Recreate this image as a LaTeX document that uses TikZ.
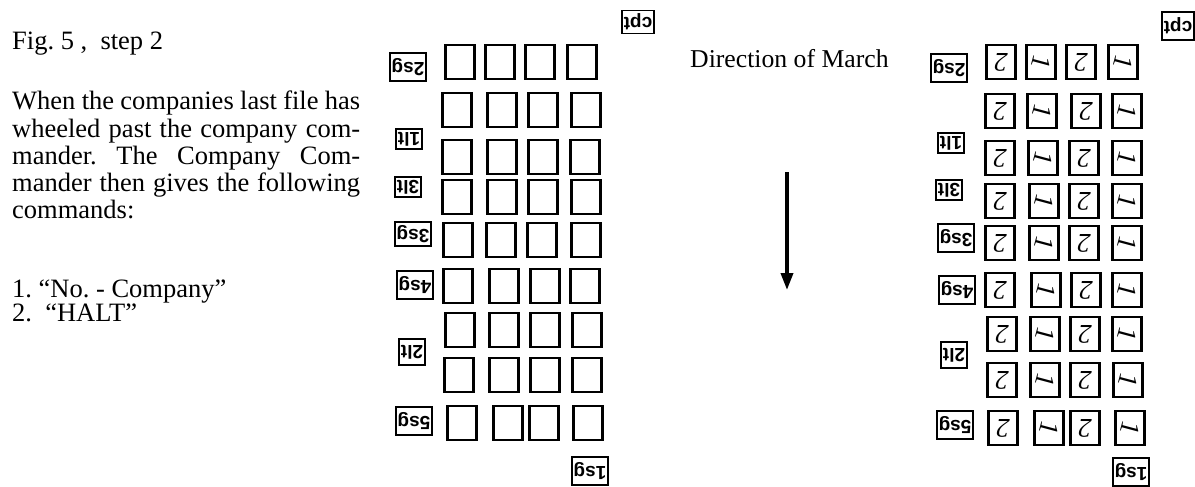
\documentclass[tikz,border=0pt]{standalone}
\usepackage{fontspec}
\usepackage{graphicx}
\setmainfont{Liberation Serif}
\newfontfamily\labfont{Liberation Sans}
\usetikzlibrary{arrows.meta}
\frenchspacing
\tikzset{
  txt/.style={anchor=base west, inner sep=0pt, font=\fontsize{26.5}{27}\selectfont},
  sq/.style={draw, line width=2.4pt, minimum width=29pt, minimum height=34pt, inner sep=0pt,
    font=\itshape\fontsize{27}{27}\selectfont},
  lbl/.style={draw, line width=1.9pt, rotate=180, inner xsep=2pt, inner ysep=1pt,
    font=\labfont\bfseries\fontsize{19}{19}\selectfont},
  sglbl/.style={lbl, minimum height=28pt},
  ltlbl/.style={lbl, minimum height=20pt},
  marcharrow/.style={line width=3.6pt, -{Triangle[width=12pt,length=17pt]}}
}
\newcommand{\mktwo}{\rotatebox[origin=c]{180}{2}}
\newcommand{\mkone}{\rotatebox[origin=c]{255}{\upshape 1}}
\begin{document}
\begin{tikzpicture}[x=1pt,y=-1pt]
\useasboundingbox (0,0) rectangle (1195,487);
% left text
\node[txt] (fig) at (12,50) {Fig. 5 ,\ \ step 2};
\node[txt] (p1) at (12,110) {\makebox[348pt][s]{When the companies last file has}};
\node[txt] (p2) at (12,137) {\makebox[348pt][s]{wheeled past the company com-}};
\node[txt] (p3) at (12,164) {\makebox[348pt][s]{mander. The Company Com-}};
\node[txt] (p4) at (12,191) {\makebox[348pt][s]{mander then gives the following}};
\node[txt] (p5) at (12,218) {commands:};
\node[txt] (c1) at (12,297) {1. “No. - Company”};
\node[txt] (c2) at (12,321) {2.\ \ “HALT”};
% direction of march
\node[txt, font=\fontsize{25.7}{27}\selectfont] (dom) at (690,67) {Direction of March};
\coordinate (atop) at (787,172);
\coordinate (atip) at (787,290);
\draw[marcharrow] (atop) -- (atip);
% left grid
\foreach \r/\y/\a/\b/\c/\d in {1/62/460/500/540/582, 2/110/457/502/543/586, 3/157/457/502/543/585,
  4/197/457/502/543/586, 5/240/458/501/542/586, 6/286/458/504/545/585, 7/330/460/504/545/587,
  8/375/459/504/545/587, 9/423/462/508/544/588}{
  \node[sq] (L\r a) at (\a,\y) {};
  \node[sq] (L\r b) at (\b,\y) {};
  \node[sq] (L\r c) at (\c,\y) {};
  \node[sq] (L\r d) at (\d,\y) {};
}
\node[ltlbl, minimum height=23pt] (Lcpt) at (638,22) {cpt};
\node[sglbl] (L2sg) at (408,67) {2sg};
\node[ltlbl] (L1lt) at (409,139) {1lt};
\node[ltlbl] (L3lt) at (408,187) {3lt};
\node[sglbl, minimum height=24pt] (L3sg) at (413,234) {3sg};
\node[sglbl] (L4sg) at (415,285) {4sg};
\node[ltlbl, minimum height=26pt] (L2lt) at (412,352) {2lt};
\node[sglbl] (L5sg) at (414,421) {5sg};
\node[sglbl] (L1sg) at (590,471) {1sg};
% right grid
\foreach \r/\y/\a/\b/\c/\d in {1/62/1001/1041/1081/1123, 2/111/1000/1042/1086/1127, 3/158/1000/1043/1084/1127,
  4/201/1000/1044/1084/1127, 5/243/1000/1044/1084/1127, 6/290/1000/1046/1086/1127, 7/334/1002/1045/1085/1127,
  8/380/1002/1045/1085/1128, 9/428/1003/1049/1085/1130}{
  \node[sq] (R\r a) at (\a,\y) {\mktwo};
  \node[sq] (R\r b) at (\b,\y) {\mkone};
  \node[sq] (R\r c) at (\c,\y) {\mktwo};
  \node[sq] (R\r d) at (\d,\y) {\mkone};
}
\node[sglbl] (Rcpt) at (1178,26) {cpt};
\node[sglbl] (R2sg) at (949,68) {2sg};
\node[ltlbl] (R1lt) at (951,143) {1lt};
\node[ltlbl] (R3lt) at (949,190) {3lt};
\node[sglbl] (R3sg) at (956,238) {3sg};
\node[sglbl] (R4sg) at (957,290) {4sg};
\node[ltlbl, minimum height=26pt] (R2lt) at (954,355) {2lt};
\node[sglbl] (R5sg) at (955,425) {5sg};
\node[sglbl] (R1sg) at (1131,472) {1sg};
\end{tikzpicture}
\end{document}
